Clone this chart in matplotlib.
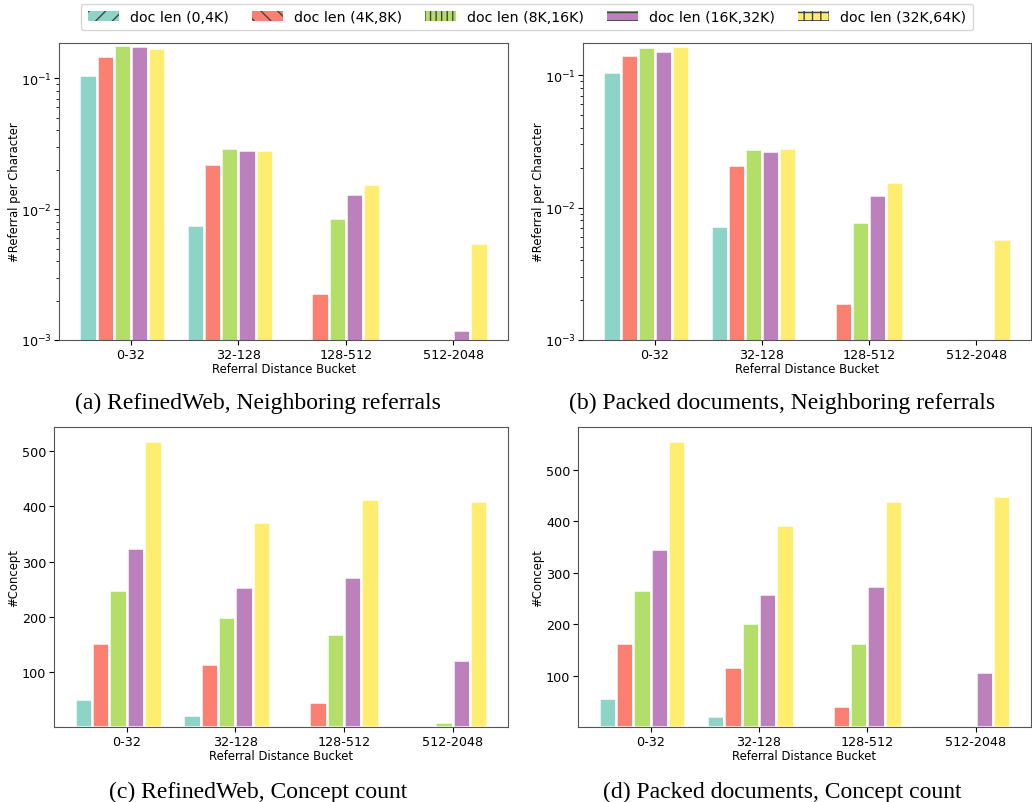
import numpy as np
import matplotlib
matplotlib.use('Agg')
import matplotlib.pyplot as plt
from matplotlib.patches import Patch

# ── data ──
buckets = ['0-32', '32-128', '128-512', '512-2048']
series = ['doc len (0,4K)', 'doc len (4K,8K)', 'doc len (8K,16K)',
          'doc len (16K,32K)', 'doc len (32K,64K)']
colors = ['#8dd3c7', '#fb8072', '#b3de69', '#bc80bd', '#ffed6f']
hatches = ['//', '\\\\', '|||', '--', '++']

# (a) RefinedWeb, referrals per character (log); 0 = no bar
ref_web = [
    [0.105, 0.0076, 0,      0],
    [0.147, 0.0220, 0.0023, 0],
    [0.180, 0.0291, 0.0086, 0],
    [0.176, 0.0283, 0.0130, 0.0012],
    [0.171, 0.0283, 0.0155, 0.0055],
]
# (b) packed documents, referrals per character
ref_packed = [
    [0.1054, 0.0072, 0,      0],
    [0.1425, 0.0209, 0.0019, 0],
    [0.163,  0.0276, 0.0078, 0],
    [0.152,  0.0267, 0.0124, 0.00102],
    [0.167,  0.0281, 0.0155, 0.0058],
]
# (c) RefinedWeb, concept count
con_web = [
    [50,  22,  1,   0],
    [152, 115, 45,  0],
    [249, 199, 169, 9],
    [324, 254, 272, 121],
    [518, 371, 414, 409],
]
# (d) packed documents, concept count
con_packed = [
    [57,  22,  1,   0],
    [164, 117, 40,  0],
    [266, 202, 164, 4],
    [346, 258, 273, 107],
    [555, 392, 439, 448],
]

panels = [
    (ref_web,    '(a) RefinedWeb, Neighboring referrals',        '#Referral per Character', True),
    (ref_packed, '(b) Packed documents, Neighboring referrals',  '#Referral per Character', True),
    (con_web,    '(c) RefinedWeb, Concept count',                '#Concept', False),
    (con_packed, '(d) Packed documents, Concept count',          '#Concept', False),
]

W, H = 1032, 803
# axes boxes in pixels: left, top, right, bottom
boxes = [(59, 44, 508, 341), (583, 44, 1031, 341),
         (54, 428, 508, 728), (578, 428, 1031, 728)]
captions_xy = [(258, 403), (782, 403), (258, 792), (782, 792)]
ylims = [(1e-3, 0.186), (1e-3, 0.1745), None, None]

fig = plt.figure(figsize=(W / 100, H / 100), dpi=100)

x = np.arange(len(buckets))
width = 0.16

for (vals, caption, ylabel, is_log), (l, t, r, b), (cx, cy), yl in zip(panels, boxes, captions_xy, ylims):
    ax = fig.add_axes([l / W, (H - b) / H, (r - l) / W, (b - t) / H])
    for k in range(len(series)):
        ax.bar(x + (k - 2.5) * width, vals[k], width, color=colors[k],
               edgecolor='white', linewidth=1.8)
    if is_log:
        ax.set_yscale('log')
    else:
        ax.set_yticks([100, 200, 300, 400, 500])
    if yl is not None:
        ax.set_ylim(*yl)
    ax.set_xticks(x)
    ax.set_xticklabels(buckets, fontsize=9.2)
    ax.tick_params(axis='y', labelsize=9.2)
    ax.tick_params(axis='both', pad=2)
    ax.set_xlabel('Referral Distance Bucket', fontsize=8.4, labelpad=1)
    ax.set_ylabel(ylabel, fontsize=8.4, labelpad=0 if is_log else 1.5)
    for s in ax.spines.values():
        s.set_color('#555555')
    fig.text(cx / W, 1 - cy / H, caption, ha='center', va='center',
             fontsize=17, family='Liberation Serif')

handles = [Patch(facecolor=c, hatch=h, edgecolor='#444444', linewidth=0)
           for c, h in zip(colors, hatches)]
fig.legend(handles, series, loc='center', ncol=5, fontsize=10.2,
           bbox_to_anchor=(527 / W, 1 - 18 / H), frameon=True,
           handlelength=2.2, columnspacing=1.6, borderpad=0.45)

plt.savefig('out.png', dpi=100)
